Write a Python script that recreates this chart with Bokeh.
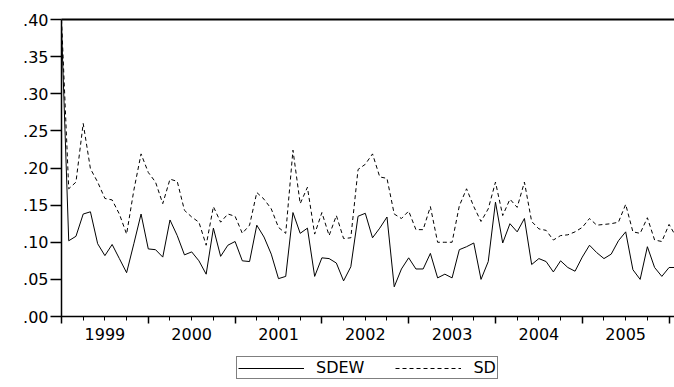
import numpy as np
from bokeh.plotting import figure
from bokeh.layouts import column
from bokeh.models import Range1d, FixedTicker, LinearAxis, Legend, LegendItem
from bokeh.embed import file_html
from bokeh.resources import INLINE

# Monthly observations, Jan 1999 onward
sdew = [0.390, 0.102, 0.108, 0.138, 0.141, 0.098, 0.082, 0.097, 0.078, 0.059, 0.098, 0.138,
        0.091, 0.090, 0.080, 0.130, 0.109, 0.083, 0.087, 0.075, 0.057, 0.119, 0.081, 0.096,
        0.101, 0.075, 0.074, 0.123, 0.107, 0.084, 0.051, 0.054, 0.140, 0.112, 0.119, 0.054,
        0.079, 0.078, 0.072, 0.048, 0.067, 0.135, 0.139, 0.106, 0.119, 0.134, 0.040, 0.064,
        0.079, 0.064, 0.064, 0.085, 0.052, 0.057, 0.052, 0.090, 0.094, 0.099, 0.050, 0.074,
        0.154, 0.099, 0.125, 0.114, 0.132, 0.070, 0.078, 0.074, 0.060, 0.075, 0.066, 0.061,
        0.080, 0.096, 0.086, 0.078, 0.084, 0.102, 0.114, 0.063, 0.050, 0.094, 0.066, 0.054,
        0.066, 0.066]
sd = [0.400, 0.172, 0.181, 0.260, 0.199, 0.181, 0.159, 0.157, 0.138, 0.111, 0.170, 0.219,
      0.194, 0.181, 0.152, 0.185, 0.182, 0.143, 0.134, 0.127, 0.096, 0.148, 0.127, 0.138,
      0.135, 0.112, 0.123, 0.167, 0.158, 0.145, 0.120, 0.112, 0.224, 0.152, 0.174, 0.111,
      0.140, 0.109, 0.136, 0.105, 0.106, 0.198, 0.205, 0.219, 0.188, 0.186, 0.138, 0.132,
      0.142, 0.117, 0.117, 0.148, 0.100, 0.100, 0.100, 0.149, 0.172, 0.148, 0.128, 0.145,
      0.181, 0.136, 0.158, 0.147, 0.181, 0.128, 0.118, 0.116, 0.103, 0.109, 0.110, 0.114,
      0.120, 0.132, 0.123, 0.124, 0.125, 0.127, 0.151, 0.114, 0.112, 0.133, 0.103, 0.101,
      0.124, 0.107]
series_names = ["SDEW", "SD"]
year_labels = ["1999", "2000", "2001", "2002", "2003", "2004", "2005"]
y_ticks = [0.00, 0.05, 0.10, 0.15, 0.20, 0.25, 0.30, 0.35, 0.40]
y_tick_labels = [".00", ".05", ".10", ".15", ".20", ".25", ".30", ".35", ".40"]

x = list(range(len(sdew)))
year_starts = [12 * k for k in range(len(year_labels) + 1)]
year_mids = [12 * k + 6 for k in range(len(year_labels))]
quarters = [3 * k for k in range(4 * len(year_labels) + 1)]

FONT = "DejaVu Sans"

p = figure(frame_width=613, frame_height=297,
           x_range=Range1d(0, 84.75), y_range=Range1d(0, 0.40),
           output_backend="svg", toolbar_location=None,
           min_border_left=61, min_border_right=0, min_border_top=19, min_border_bottom=32,
           background_fill_color="white", border_fill_color="white",
           outline_line_color=None)
p.grid.visible = False

# y axis
ya = p.yaxis[0]
ya.ticker = FixedTicker(ticks=y_ticks, minor_ticks=[])
ya.major_label_overrides = dict(zip(y_ticks, y_tick_labels))
ya.axis_line_width = 1.5
ya.axis_line_color = "black"
ya.major_tick_line_color = "black"
ya.major_tick_line_width = 1.5
ya.major_tick_out = 11
ya.major_tick_in = 0
ya.minor_tick_line_color = None
ya.major_label_standoff = 2
ya.major_label_text_font = FONT
ya.major_label_text_font_size = "16px"
ya.major_label_text_color = "black"

# x axis: tick marks only
xa = p.xaxis[0]
xa.ticker = FixedTicker(ticks=year_starts, minor_ticks=quarters)
xa.major_label_overrides = {k: "" for k in year_starts}
xa.major_label_text_font_size = "0px"
xa.major_label_standoff = 0
xa.axis_line_width = 1.5
xa.axis_line_color = "black"
xa.major_tick_line_color = "black"
xa.major_tick_line_width = 1.5
xa.major_tick_out = 7
xa.major_tick_in = 0
xa.minor_tick_line_color = "black"
xa.minor_tick_line_width = 1
xa.minor_tick_out = 4
xa.minor_tick_in = 0

# x axis: centred year labels
xb = LinearAxis(ticker=FixedTicker(ticks=year_mids, minor_ticks=[]),
                major_label_overrides=dict(zip(year_mids, year_labels)),
                axis_line_color=None, major_tick_line_color=None,
                minor_tick_line_color=None, major_tick_out=0, major_tick_in=0,
                major_label_standoff=4,
                major_label_text_font=FONT, major_label_text_font_size="16px",
                major_label_text_color="black")
p.add_layout(xb, "below")

# top border line
xt = LinearAxis(ticker=FixedTicker(ticks=[], minor_ticks=[]),
                major_label_text_font_size="0px",
                axis_line_width=2, axis_line_color="black",
                major_tick_line_color=None, minor_tick_line_color=None,
                major_tick_out=0, major_tick_in=0)
p.add_layout(xt, "above")

p.line(x, sdew, line_color="black", line_width=1)
p.line(x, sd, line_color="black", line_width=1, line_dash="4 3")

# legend strip below the chart (series drawn out of its view, used as legend keys)
lg = figure(width=674, height=39, output_backend="svg", toolbar_location=None,
            x_axis_location=None, y_axis_location=None,
            min_border=0, x_range=Range1d(0, 1), y_range=Range1d(10, 11),
            background_fill_color="white", border_fill_color="white",
            outline_line_color=None)
lg.grid.visible = False
k1 = lg.line(x, sdew, line_color="black", line_width=1)
k2 = lg.line(x, sd, line_color="black", line_width=1, line_dash="4 3")
legend = Legend(items=[LegendItem(label=series_names[0], renderers=[k1]),
                       LegendItem(label=series_names[1], renderers=[k2])],
                orientation="horizontal", location=(175, 8),
                border_line_color="black", border_line_width=1.5,
                label_text_font=FONT, label_text_font_size="16px",
                label_text_color="black", label_height=18,
                glyph_width=66, glyph_height=18, label_standoff=12,
                spacing=31, padding=1, margin=0,
                background_fill_color="white", background_fill_alpha=1)
lg.add_layout(legend, "center")

layout = column(p, lg, spacing=0)
open("out.html", "w").write(file_html(layout, INLINE))
